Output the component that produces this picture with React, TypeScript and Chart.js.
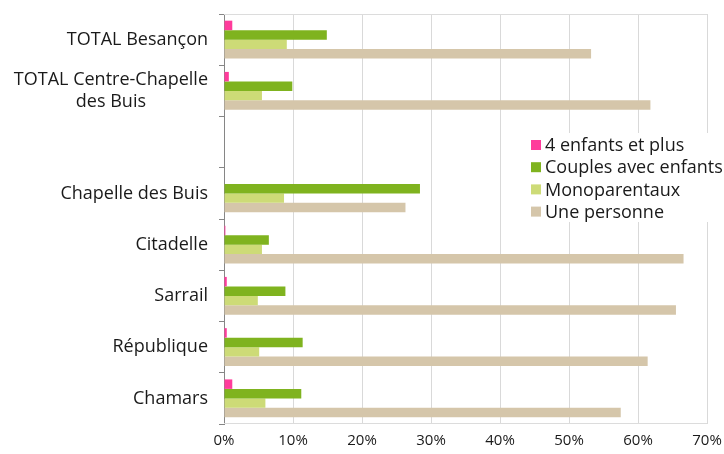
import React, { useEffect, useRef } from "react";
import { Chart, registerables } from "chart.js";

Chart.register(...registerables);

const categories: string[][] = [
  ["TOTAL Besançon"],
  ["TOTAL Centre-Chapelle", "des Buis"],
  [""],
  ["Chapelle des Buis"],
  ["Citadelle"],
  ["Sarrail"],
  ["République"],
  ["Chamars"],
];

const seriesNames = ["4 enfants et plus", "Couples avec enfants", "Monoparentaux", "Une personne"];
const quatreEnfants = [1.2, 0.7, null, 0, 0.2, 0.4, 0.4, 1.2];
const couples = [14.9, 9.9, null, 28.4, 6.5, 8.9, 11.4, 11.2];
const monoparentaux = [9.1, 5.5, null, 8.7, 5.5, 4.9, 5.1, 6.0];
const unePersonne = [53.2, 61.8, null, 26.3, 66.6, 65.5, 61.4, 57.5];
const xTicks = [0, 10, 20, 30, 40, 50, 60, 70];

const colors = ["#ff3b9b", "#7fb31f", "#cddb77", "#d5c6aa"];
const FONT = "Open Sans";
const LABEL_SIZE = 18;

export default function App() {
  const ref = useRef<HTMLCanvasElement>(null);
  useEffect(() => {
    document.body.style.margin = "0";
    const canvas = ref.current!;
    const labelPlugin = {
      id: "customLabels",
      afterDraw(chart: any) {
        const ctx = chart.ctx;
        const y = chart.scales.y;
        const area = chart.chartArea;
        ctx.save();
        ctx.fillStyle = "#1a1a1a";
        ctx.font = `${LABEL_SIZE}px "${FONT}"`;
        ctx.textBaseline = "middle";
        ctx.textAlign = "center";
        const right = area.left - 16;
        const lh = 22;
        categories.forEach((lines, i) => {
          const cy = y.getPixelForValue(i);
          const maxW = Math.max(...lines.map((l) => ctx.measureText(l).width));
          const cx = right - maxW / 2;
          lines.forEach((l, j) => {
            ctx.fillText(l, cx, cy + (j - (lines.length - 1) / 2) * lh);
          });
        });
        // legend
        ctx.fillStyle = "#ffffff";
        ctx.fillRect(525, 133, 199, 89);
        ctx.textAlign = "left";
        ctx.font = `${LABEL_SIZE}px "${FONT}"`;
        seriesNames.forEach((n, i) => {
          const ly = 145 + i * 22.2;
          ctx.fillStyle = colors[i];
          ctx.fillRect(531, ly - 5, 10, 10);
          ctx.fillStyle = "#1a1a1a";
          ctx.fillText(n, 545, ly + 1);
        });
        ctx.restore();
      },
      beforeDatasetsDraw(chart: any) {
        const ctx = chart.ctx;
        const a = chart.chartArea;
        ctx.save();
        ctx.strokeStyle = "#dcdcdc";
        ctx.lineWidth = 1;
        ctx.beginPath();
        ctx.moveTo(a.left, a.top + 0.5);
        ctx.lineTo(a.right, a.top + 0.5);
        ctx.moveTo(a.left, a.bottom - 0.5);
        ctx.lineTo(a.right, a.bottom - 0.5);
        ctx.stroke();
        ctx.restore();
      },
    };
    const data = [quatreEnfants, couples, monoparentaux, unePersonne];
    const chart = new Chart(canvas, {
      type: "bar",
      data: {
        labels: categories.map((c) => c.join(" ")),
        datasets: data.map((d, i) => ({
          label: seriesNames[i],
          data: d as any,
          backgroundColor: colors[i],
          borderWidth: 0,
          categoryPercentage: 0.74,
          barPercentage: 1,
        })),
      },
      options: {
        indexAxis: "y",
        animation: false,
        responsive: false,
        maintainAspectRatio: false,
        layout: { padding: { top: 14, right: 17, left: 0, bottom: 0 } },
        plugins: { legend: { display: false }, tooltip: { enabled: false } },
        scales: {
          x: {
            min: 0,
            max: 70,
            afterBuildTicks: (s: any) => {
              s.ticks = xTicks.map((v) => ({ value: v }));
            },
            afterFit: (s: any) => {
              s.height = 30;
              s.paddingRight = 0;
              s.paddingLeft = 0;
            },
            grid: { color: "#d9d9d9", drawTicks: false },
            border: { display: false },
            ticks: {
              padding: 8,
              color: "#1a1a1a",
              font: { family: FONT, size: 15 },
              callback: (v: any) => v + "%",
            },
          },
          y: {
            afterFit: (s: any) => {
              s.width = 224;
              s.paddingTop = 0;
              s.paddingBottom = 0;
            },
            grid: { drawOnChartArea: false, drawTicks: true, tickLength: 5, color: "#868686" },
            border: { color: "#868686" },
            ticks: { display: false },
          },
        },
      },
      plugins: [labelPlugin],
    });
    return () => chart.destroy();
  }, []);
  return (
    <div style={{ width: 724, height: 454 }}>
      <canvas ref={ref} width={724} height={454} style={{ display: "block" }} />
    </div>
  );
}
